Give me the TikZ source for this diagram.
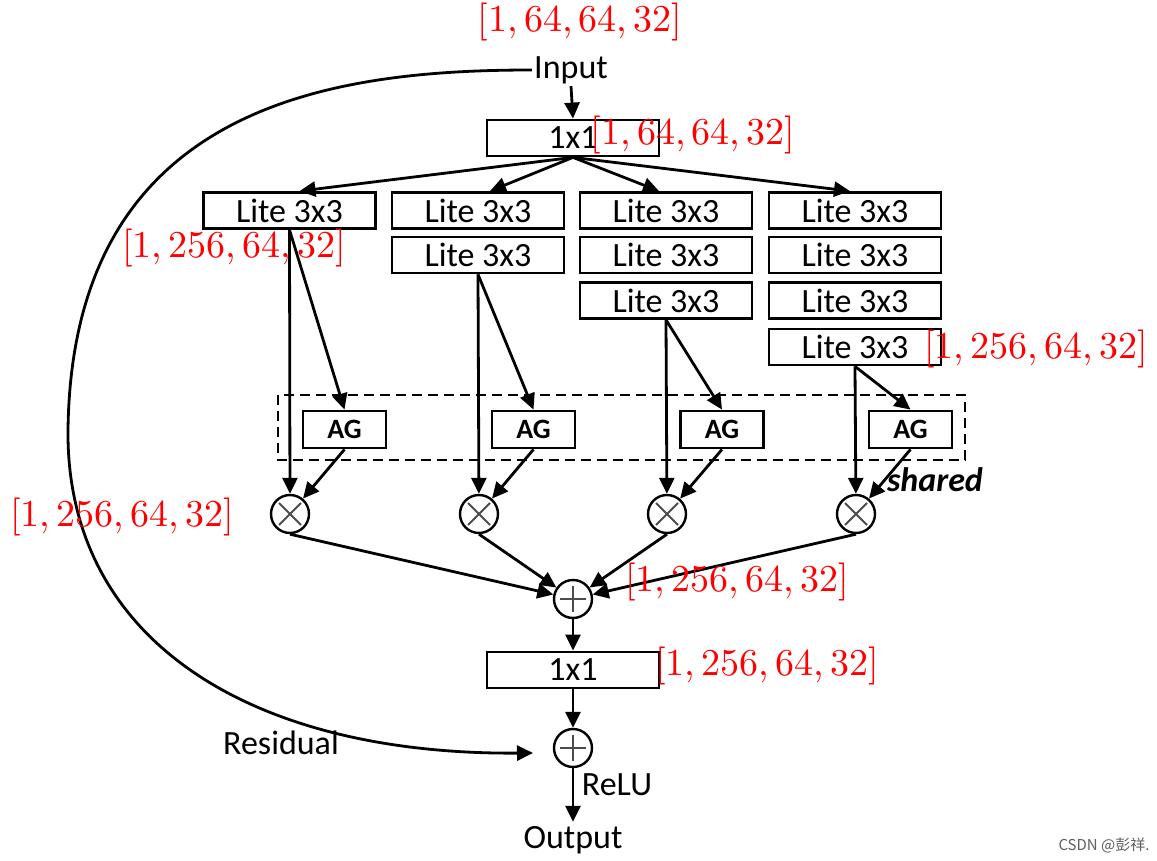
\documentclass[tikz,border=0pt]{standalone}
\usepackage{fontspec}
\setmainfont{Carlito}
\newfontfamily\lmr{lmroman10-regular}[Extension=.otf]
\newfontfamily\cjkfont{Noto Sans CJK SC}
\usetikzlibrary{arrows.meta,calc}
\tikzset{
  every node/.style={inner sep=0pt},
  blk/.style={draw, line width=1.4pt, minimum width=86pt, minimum height=18pt,
    font=\fontsize{17}{19}\selectfont},
  agbox/.style={draw, line width=1.4pt, minimum width=41.5pt, minimum height=18.5pt,
    font=\bfseries\fontsize{14}{16}\selectfont},
  opc/.style={circle, draw, line width=1.2pt, minimum size=19pt, fill=white},
  mulop/.style={opc, path picture={
    \draw[gray!60!black, line width=0.9pt]
      ([shift={(-5.5pt,-5.5pt)}]path picture bounding box.center) --
      ([shift={(5.5pt,5.5pt)}]path picture bounding box.center)
      ([shift={(-5.5pt,5.5pt)}]path picture bounding box.center) --
      ([shift={(5.5pt,-5.5pt)}]path picture bounding box.center);}},
  addop/.style={opc, path picture={
    \draw[gray!60!black, line width=0.9pt]
      ([shift={(-6.5pt,0pt)}]path picture bounding box.center) --
      ([shift={(6.5pt,0pt)}]path picture bounding box.center)
      ([shift={(0pt,6.5pt)}]path picture bounding box.center) --
      ([shift={(0pt,-6.5pt)}]path picture bounding box.center);}},
  txt/.style={font=\fontsize{17}{19}\selectfont},
  shape lbl/.style={text=red, font=\lmr\fontsize{19}{22}\selectfont},
  arr/.style={line width=1.4pt, -{Triangle[length=8pt,width=7.5pt]}},
}
\begin{document}
\begin{tikzpicture}[x=0.5pt,y=-0.5pt]
\useasboundingbox (0,0) rectangle (1157,861);
\fill[white] (0,0) rectangle (1157,861);

% top
\node[txt, inner sep=1pt] (inp) at (571,70) {Input};
\node[blk] (c1) at (573,138) {1x1};

% Lite 3x3 columns
\node[blk] (l11) at (289.5,210.5) {Lite 3x3};
\node[blk] (l21) at (478,210.5) {Lite 3x3};
\node[blk] (l22) at (478,255) {Lite 3x3};
\node[blk] (l31) at (666,210.5) {Lite 3x3};
\node[blk] (l32) at (666,255) {Lite 3x3};
\node[blk] (l33) at (666,300.5) {Lite 3x3};
\node[blk] (l41) at (855,210.5) {Lite 3x3};
\node[blk] (l42) at (855,255) {Lite 3x3};
\node[blk] (l43) at (855,300.5) {Lite 3x3};
\node[blk] (l44) at (855,347) {Lite 3x3};

% AG row
\draw[line width=1.4pt, dash pattern=on 5pt off 3pt] (278,395) rectangle (965,460);
\node[agbox] (ag1) at (344.5,429.5) {AG};
\node[agbox] (ag2) at (533.5,429.5) {AG};
\node[agbox] (ag3) at (722,429.5) {AG};
\node[agbox] (ag4) at (910.5,429.5) {AG};
\node[font=\bfseries\itshape\fontsize{17}{19}\selectfont] (shr) at (935,480) {shared};

% multiply
\node[mulop] (m1) at (290,514) {};
\node[mulop] (m2) at (479,514) {};
\node[mulop] (m3) at (667,514) {};
\node[mulop] (m4) at (856,514) {};

% sum and output
\node[addop] (p1) at (573,599) {};
\node[blk] (c2) at (573,670) {1x1};
\node[addop] (p2) at (573,748) {};
\node[txt, inner sep=2pt] (out) at (573,840) {Output};
\node[txt] (relu) at (617,785) {ReLU};
\node[txt] (res) at (281,743) {Residual};
\coordinate (resend) at (533,753);

% connectors
\draw[arr] (inp.south) -- (c1.north);
\draw[arr] (c1.south) -- ([xshift=5pt]l11.north);
\draw[arr] (c1.south) -- ([xshift=6pt]l21.north);
\draw[arr] (c1.south) -- ([xshift=-3.5pt]l31.north);
\draw[arr] (c1.south) -- ([xshift=-2.5pt]l41.north);

\draw[arr] (l11.south) -- (m1);
\draw[arr] (l11.south) -- (ag1.north);
\draw[arr] (ag1.south) -- (m1);
\draw[arr] (l22.south) -- (m2);
\draw[arr] (l22.south) -- (ag2.north);
\draw[arr] (ag2.south) -- (m2);
\draw[arr] (l33.south) -- (m3);
\draw[arr] (l33.south) -- (ag3.north);
\draw[arr] (ag3.south) -- (m3);
\draw[arr] (l44.south) -- (m4);
\draw[arr] (l44.south) -- (ag4.north);
\draw[arr] (ag4.south) -- (m4);

\draw[arr] (m1.south) -- (p1);
\draw[arr] (m2.south) -- (p1);
\draw[arr] (m3.south) -- (p1);
\draw[arr] (m4.south) -- (p1);

\draw[arr] (p1.south) -- (c2.north);
\draw[arr] (c2.south) -- (p2.north);
\draw[arr] (p2.south) -- (out.north);

\draw[arr] (inp.west) .. controls (330,70) and (72,105) .. (68,430)
  .. controls (66,640) and (250,755) .. (resend);

% red shape labels
\node[shape lbl] (s0) at (580,22) {[1,\,64,\,64,\,32]};
\node[shape lbl] (s1) at (693,135) {[1,\,64,\,64,\,32]};
\node[shape lbl] (s2) at (234,248) {[1,\,256,\,64,\,32]};
\node[shape lbl] (s3) at (1036,349) {[1,\,256,\,64,\,32]};
\node[shape lbl] (s4) at (122,517) {[1,\,256,\,64,\,32]};
\node[shape lbl] (s5) at (737,582) {[1,\,256,\,64,\,32]};
\node[shape lbl] (s6) at (767,666) {[1,\,256,\,64,\,32]};

% watermark
\node[text=gray!75!black, font=\cjkfont\fontsize{7.5}{9}\selectfont] (wm) at (1104,845) {CSDN @彭祥.};
\end{tikzpicture}
\end{document}
